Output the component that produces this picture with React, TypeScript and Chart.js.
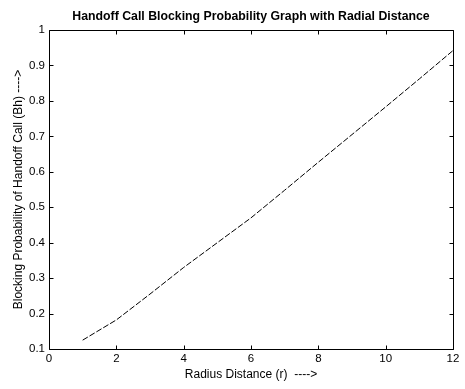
import React, { useEffect, useRef } from "react";
import { Chart, registerables } from "chart.js";

Chart.register(...registerables);

const radius = [1, 2, 3, 4, 5, 6, 7, 8, 9, 10, 11, 12];
const blocking = [0.125, 0.182, 0.255, 0.33, 0.4, 0.47, 0.548, 0.627, 0.705, 0.783, 0.862, 0.942];
const titleText = "Handoff Call Blocking Probability Graph with Radial Distance";
const xTitle = "Radius Distance (r)  ---->";
const yTitle = "Blocking Probability of Handoff Call (Bh) ---->";

const FONT = "'Liberation Sans', Arial, sans-serif";

const boxPlugin = {
  id: "matlabBox",
  afterDraw(chart: any) {
    const { ctx, chartArea } = chart;
    const { left, right, top, bottom } = chartArea;
    const L = Math.round(left) + 0.5;
    const R = Math.round(right) + 0.5;
    const T = Math.round(top) + 0.5;
    const B = Math.round(bottom) + 0.5;
    ctx.save();
    ctx.strokeStyle = "#000";
    ctx.lineWidth = 1;
    ctx.beginPath();
    ctx.rect(L, T, R - L, B - T);
    const len = 4;
    const xs = chart.scales.x;
    xs.ticks.forEach((t: any) => {
      const px = Math.round(xs.getPixelForValue(t.value)) + 0.5;
      ctx.moveTo(px, B);
      ctx.lineTo(px, B - len);
      ctx.moveTo(px, T);
      ctx.lineTo(px, T + len);
    });
    const ys = chart.scales.y;
    ys.ticks.forEach((t: any) => {
      const py = Math.round(ys.getPixelForValue(t.value)) + 0.5;
      ctx.moveTo(L, py);
      ctx.lineTo(L + len, py);
      ctx.moveTo(R, py);
      ctx.lineTo(R - len, py);
    });
    ctx.stroke();
    // title centred over the plot area
    ctx.fillStyle = "#000";
    ctx.font = `bold 12.3px ${FONT}`;
    ctx.textAlign = "center";
    ctx.textBaseline = "middle";
    ctx.fillText(titleText, (left + right) / 2, 17);
    ctx.restore();
  },
};

export default function App() {
  const ref = useRef<HTMLCanvasElement>(null);
  useEffect(() => {
    if (!ref.current) return;
    const chart = new Chart(ref.current, {
      type: "line",
      data: {
        datasets: [
          {
            data: radius.map((r, i) => ({ x: r, y: blocking[i] })),
            borderColor: "#000",
            borderWidth: 1,
            borderDash: [6, 2],
            pointRadius: 0,
            tension: 0,
            fill: false,
          },
        ],
      },
      options: {
        animation: false,
        responsive: false,
        maintainAspectRatio: false,
        layout: { padding: { left: 0, right: 12, top: 30, bottom: 0 } },
        plugins: {
          legend: { display: false },
          tooltip: { enabled: false },
          title: { display: false },
        },
        scales: {
          x: {
            type: "linear",
            min: 0,
            max: 12,
            grid: { display: false, drawTicks: false },
            border: { display: false },
            ticks: {
              stepSize: 2,
              color: "#000",
              font: { family: FONT, size: 11.5 },
              padding: 3,
              maxRotation: 0,
            },
            title: {
              display: true,
              text: xTitle,
              color: "#000",
              font: { family: FONT, size: 12 },
              padding: { top: 0, bottom: 7 },
            },
            afterFit(scale: any) {
              scale.height = 40;
            },
          },
          y: {
            type: "linear",
            min: 0.1,
            max: 1,
            grid: { display: false, drawTicks: false },
            border: { display: false },
            ticks: {
              stepSize: 0.1,
              color: "#000",
              font: { family: FONT, size: 11.5 },
              padding: 4,
              callback: (v: any) => (Math.abs(v - 1) < 1e-9 ? "1" : Number(v).toFixed(1)),
            },
            title: {
              display: true,
              text: yTitle,
              color: "#000",
              font: { family: FONT, size: 12 },
              padding: { top: 11, bottom: 0 },
            },
            afterFit(scale: any) {
              scale.width = 49;
            },
          },
        },
      },
      plugins: [boxPlugin],
    });
    return () => chart.destroy();
  }, []);
  return (
    <div style={{ position: "fixed", left: 0, top: 0, width: 465, height: 389, background: "#fff" }}>
      <canvas ref={ref} width={465} height={389} style={{ display: "block" }} />
    </div>
  );
}
